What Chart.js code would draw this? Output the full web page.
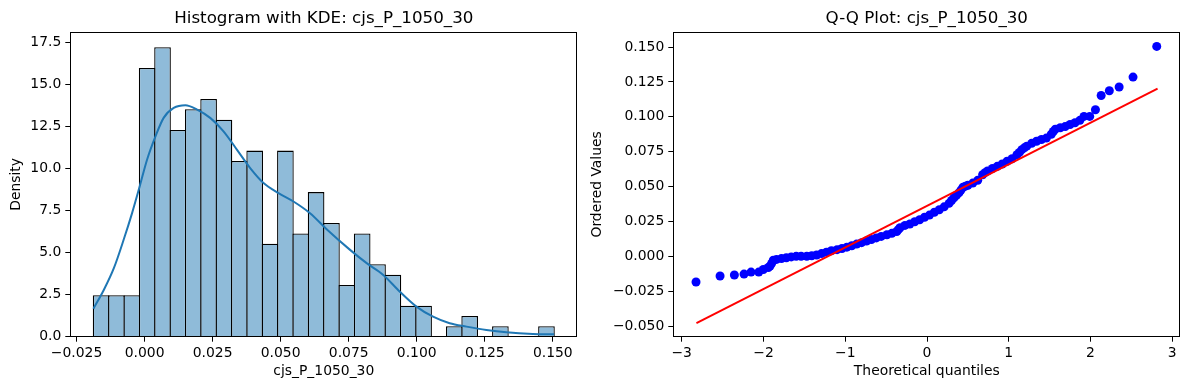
<!DOCTYPE html>
<html>
<head>
<meta charset="utf-8">
<script src="https://cdn.jsdelivr.net/npm/chart.js@4.4.1/dist/chart.umd.min.js"></script>
<style>
  html, body { margin: 0; padding: 0; background: #fff; overflow: hidden; }
  body { width: 1189px; height: 390px; position: relative; }
  canvas { position: absolute; top: 0; }
  #hist { left: 0; }
  #qq { left: 580px; }
</style>
</head>
<body>
<canvas id="hist" width="586" height="390"></canvas>
<canvas id="qq" width="609" height="390"></canvas>
<script>
// Histogram bins (centres) and density heights
const binCenters = [-0.01598, -0.01034, -0.00469, 0.00095, 0.00659, 0.01224, 0.01788, 0.02352, 0.02916, 0.03481,
	0.04045, 0.04609, 0.05174, 0.05738, 0.06302, 0.06866, 0.07431, 0.07995, 0.08559, 0.09124,
	0.09688, 0.10252, 0.10817, 0.11381, 0.11945, 0.12509, 0.13074, 0.13638, 0.14202, 0.14767];
const density = [2.47, 2.47, 2.47, 16.0, 17.23, 12.31, 13.54, 14.15, 12.92, 10.46,
	11.08, 5.54, 11.08, 6.15, 8.61, 6.77, 3.08, 6.15, 4.31, 3.69,
	1.85, 1.85, 0, 0.62, 1.23, 0, 0.62, 0, 0, 0.62];

// KDE curve
const kdeX = [-0.0188, -0.0150, -0.0113, -0.0077, -0.0046, -0.0018, 0.0009, 0.0040, 0.0070, 0.0107,
	0.0150, 0.0193, 0.0241, 0.0290, 0.0339, 0.0388, 0.0437, 0.0492, 0.0547, 0.0608,
	0.0669, 0.0755, 0.0816, 0.0877, 0.0938, 0.0999, 0.1060, 0.1121, 0.1183, 0.1256,
	0.1329, 0.1427, 0.1505];
const kdeY = [1.67, 2.78, 4.08, 5.77, 7.36, 8.95, 10.54, 11.93, 13.03, 13.62,
	13.78, 13.52, 13.03, 12.23, 11.14, 10.04, 9.15, 8.55, 8.05, 7.35,
	6.4, 5.17, 4.38, 3.68, 2.68, 1.79, 1.19, 0.80, 0.60, 0.40,
	0.26, 0.16, 0.14];

// Q-Q plot points
const qqTheoretical = [-2.825, -2.531, -2.356, -2.238, -2.152, -2.058, -2.002, -1.941,
	-1.92, -1.90, -1.88, -1.84, -1.78, -1.72, -1.66, -1.60, -1.54, -1.47, -1.41,
	-1.35, -1.29, -1.23, -1.17, -1.10, -1.04, -0.98, -0.92, -0.86, -0.80,
	-0.74, -0.68, -0.62, -0.56, -0.49, -0.43, -0.37, -0.35, -0.33, -0.27, -0.21,
	-0.15, -0.09, -0.03, 0.03, 0.09, 0.15, 0.21, 0.27, 0.30, 0.33, 0.36, 0.39,
	0.415, 0.44, 0.47, 0.50, 0.56, 0.62, 0.68, 0.71, 0.74, 0.80, 0.86, 0.92, 0.98,
	1.04, 1.10, 1.13, 1.16, 1.19, 1.22, 1.28, 1.34, 1.40, 1.46, 1.52, 1.545, 1.57,
	1.63, 1.69, 1.75, 1.81, 1.87, 1.92, 1.99, 2.06, 2.13, 2.23,
	2.35, 2.52, 2.81];
const qqOrdered = [-0.0184, -0.0141, -0.0134, -0.0127, -0.0113, -0.0113, -0.0094, -0.0080,
	-0.0070, -0.0050, -0.0028, -0.0022, -0.0016, -0.0010, -0.0004, 0.0000, 0.0001, 0.0001, 0.0004,
	0.0010, 0.0020, 0.0030, 0.0040, 0.0048, 0.0056, 0.0066, 0.0076, 0.0088, 0.0098,
	0.0110, 0.0120, 0.0132, 0.0143, 0.0155, 0.0165, 0.0178, 0.0192, 0.0205, 0.0222, 0.0232,
	0.0248, 0.0262, 0.0280, 0.0296, 0.0316, 0.0334, 0.0355, 0.0380, 0.0400, 0.0420, 0.0438, 0.0455,
	0.0475, 0.0495, 0.0503, 0.0510, 0.0525, 0.0545, 0.0585, 0.0600, 0.0612, 0.0630, 0.0645, 0.0662, 0.0682,
	0.0700, 0.0728, 0.0745, 0.0765, 0.0778, 0.0790, 0.0810, 0.0825, 0.0838, 0.0848, 0.0875, 0.0895, 0.0912,
	0.0922, 0.0930, 0.0945, 0.0958, 0.0975, 0.1003, 0.1003, 0.1051, 0.1153, 0.1187,
	0.1214, 0.1285, 0.1505];

// Fitted line ends
const fitX = [-2.82, 2.82];
const fitY = [-0.0478, 0.1203];

Chart.defaults.font.family = "'DejaVu Sans', sans-serif";
Chart.defaults.color = "#000";

const TICK_FONT = { size: 13.9 };
const LABEL_FONT = { size: 13.9 };
const TITLE_FONT = { size: 16.7, weight: "normal" };

const fmt = (v, d) => {
	if (Math.abs(v) < 1e-9) v = 0;
	return v.toFixed(d).replace("-", "\u2212");
};

// draws the full axes box (matplotlib spines)
const frame = {
	id: "frame",
	afterDatasetsDraw(chart) {
		const { ctx, chartArea: a } = chart;
		ctx.save();
		ctx.strokeStyle = "#000";
		ctx.lineWidth = 1;
		const l = Math.round(a.left) + 0.5;
		const t = Math.round(a.top) + 0.5;
		const r = Math.round(a.right) - 0.5;
		const b = Math.round(a.bottom) - 0.5;
		ctx.strokeRect(l, t, r - l, b - t);
		ctx.restore();
	},
};

const axisGrid = {
	display: true,
	drawOnChartArea: false,
	drawTicks: true,
	tickLength: 5,
	tickColor: "#000",
	tickWidth: 1,
};

const titleOpts = (text) => ({
	display: true,
	text: text,
	fullSize: false,
	font: TITLE_FONT,
	padding: { top: 9, bottom: 3 },
});

// Histogram + KDE
new Chart(document.getElementById("hist"), {
	type: "bar",
	data: {
		datasets: [
			{
				type: "line",
				data: kdeX.map((x, i) => ({ x: x, y: kdeY[i] })),
				borderColor: "#1f77b4",
				borderWidth: 2,
				pointRadius: 0,
				cubicInterpolationMode: "monotone",
				order: 0,
			},
			{
				type: "bar",
				data: binCenters.map((x, i) => ({ x: x, y: density[i] })),
				backgroundColor: "#8fbbd9",
				borderColor: "#000",
				borderWidth: { top: 1.3, left: 1.3, right: 1.3, bottom: 0 },
				borderSkipped: false,
				barPercentage: 1.085,
				categoryPercentage: 1,
				order: 1,
			},
		],
	},
	options: {
		responsive: false,
		devicePixelRatio: 1,
		animation: false,
		layout: { padding: { left: 0, right: 8.7, top: 0, bottom: 0 } },
		plugins: {
			legend: { display: false },
			tooltip: { enabled: false },
			title: titleOpts("Histogram with KDE: cjs_P_1050_30"),
		},
		scales: {
			x: {
				type: "linear",
				min: -0.0273,
				max: 0.159,
				offset: false,
				border: { display: false },
				grid: { ...axisGrid, offset: false },
				ticks: {
					stepSize: 0.025,
					includeBounds: false,
					autoSkip: false,
					maxRotation: 0,
					padding: 3,
					font: TICK_FONT,
					callback: (v) => fmt(v, 3),
				},
				title: { display: true, text: "cjs_P_1050_30", font: LABEL_FONT, padding: { top: 0, bottom: 10 } },
				afterFit: (s) => { s.height = 53.3; },
			},
			y: {
				type: "linear",
				min: 0,
				max: 18.14,
				border: { display: false },
				grid: axisGrid,
				ticks: {
					stepSize: 2.5,
					includeBounds: false,
					padding: 4,
					font: TICK_FONT,
					callback: (v) => fmt(v, 1),
				},
				title: { display: true, text: "Density", font: LABEL_FONT, padding: { top: 8, bottom: 0 } },
				afterFit: (s) => { s.width = 70.3; },
			},
		},
	},
	plugins: [frame],
});

// Q-Q plot
new Chart(document.getElementById("qq"), {
	type: "scatter",
	data: {
		datasets: [
			{
				type: "line",
				data: fitX.map((x, i) => ({ x: x, y: fitY[i] })),
				borderColor: "#ff0000",
				borderWidth: 2,
				pointRadius: 0,
				order: 0,
			},
			{
				type: "scatter",
				data: qqTheoretical.map((x, i) => ({ x: x, y: qqOrdered[i] })),
				backgroundColor: "#0000ff",
				borderWidth: 0,
				pointRadius: 4.5,
				order: 1,
			},
		],
	},
	options: {
		responsive: false,
		devicePixelRatio: 1,
		animation: false,
		layout: { padding: { left: 0, right: 8.7, top: 0, bottom: 0 } },
		plugins: {
			legend: { display: false },
			tooltip: { enabled: false },
			title: titleOpts("Q-Q Plot: cjs_P_1050_30"),
		},
		scales: {
			x: {
				type: "linear",
				min: -3.103,
				max: 3.098,
				border: { display: false },
				grid: axisGrid,
				ticks: {
					stepSize: 1,
					includeBounds: false,
					autoSkip: false,
					maxRotation: 0,
					padding: 3,
					font: TICK_FONT,
					callback: (v) => fmt(v, 0),
				},
				title: { display: true, text: "Theoretical quantiles", font: LABEL_FONT, padding: { top: 0, bottom: 10 } },
				afterFit: (s) => { s.height = 53.3; },
			},
			y: {
				type: "linear",
				min: -0.0576,
				max: 0.1608,
				border: { display: false },
				grid: axisGrid,
				ticks: {
					stepSize: 0.025,
					includeBounds: false,
					padding: 4,
					font: TICK_FONT,
					callback: (v) => fmt(v, 3),
				},
				title: { display: true, text: "Ordered Values", font: LABEL_FONT, padding: { top: 8.7, bottom: 0 } },
				afterFit: (s) => { s.width = 93.3; },
			},
		},
	},
	plugins: [frame],
});
</script>
</body>
</html>
